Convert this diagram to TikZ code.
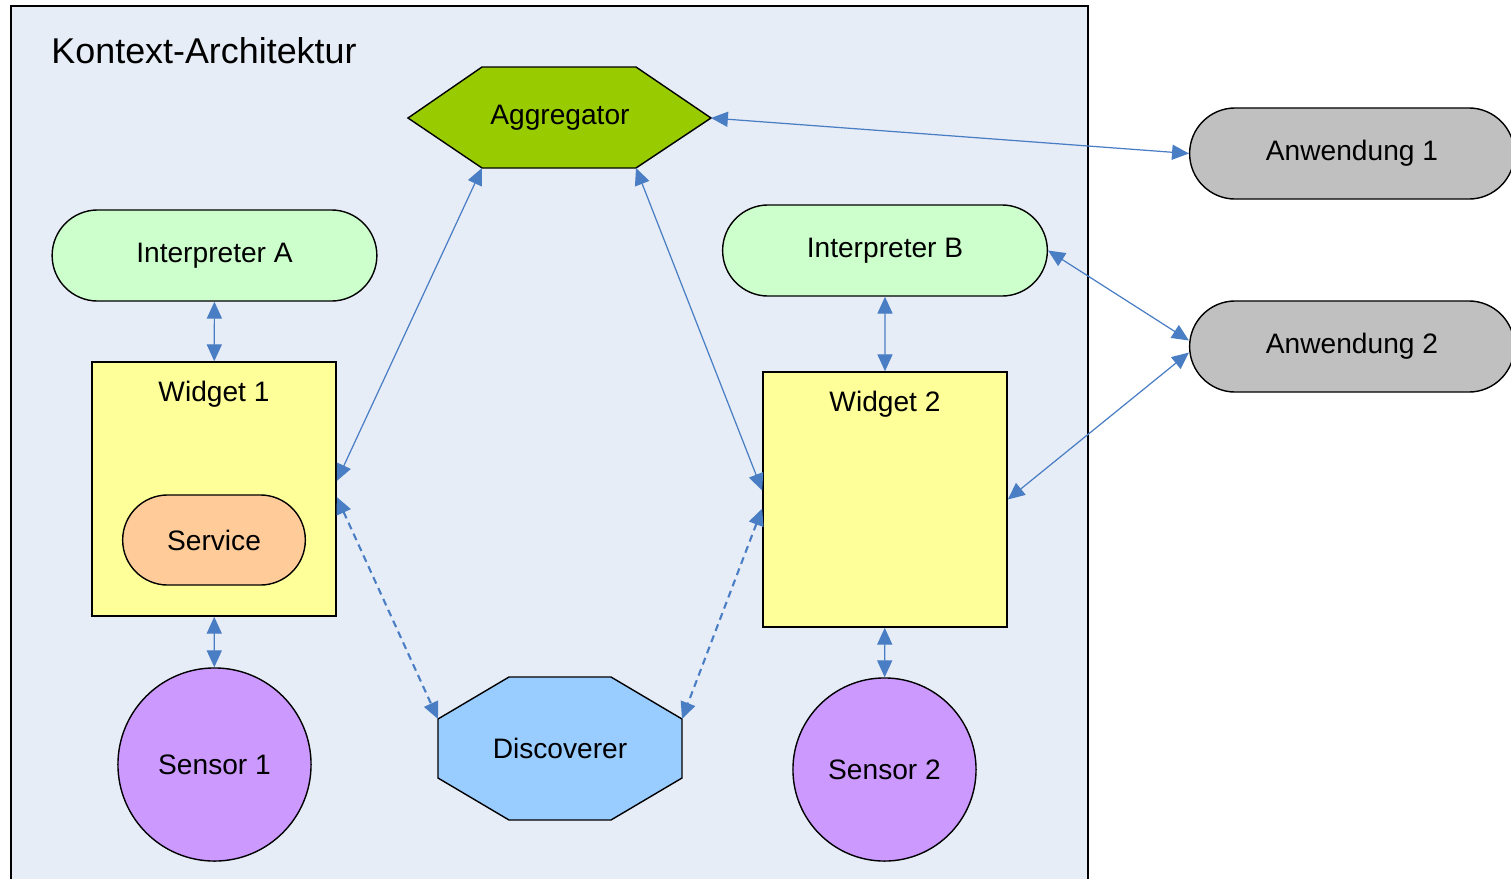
\documentclass[tikz,border=0pt]{standalone}
\usepackage{fontspec}
\setmainfont{Liberation Sans}
\usetikzlibrary{shapes.misc,arrows.meta}
\definecolor{framebg}{HTML}{E7EDF7}
\definecolor{aggreen}{HTML}{99CC00}
\definecolor{interpgreen}{HTML}{CCFFCC}
\definecolor{widgetyellow}{HTML}{FFFF99}
\definecolor{serviceorange}{HTML}{FFCC99}
\definecolor{sensorlilac}{HTML}{CC99FF}
\definecolor{discblue}{HTML}{99CCFF}
\definecolor{appgray}{HTML}{C0C0C0}
\definecolor{linkblue}{HTML}{4A7EC4}

\begin{document}
\begin{tikzpicture}[x=0.01cm, y=-0.01cm,
  every node/.style={font=\fontsize{8}{9.6}\selectfont},
  pill/.style={rounded rectangle, draw, minimum height=0.91cm, minimum width=3.48cm},
  widgetbox/.style={rectangle, draw, fill=widgetyellow, minimum width=2.44cm, minimum height=2.54cm},
  sensor/.style={circle, draw, fill=sensorlilac},
  link/.style={draw=linkblue, line width=0.35pt, {Triangle[length=4.8pt,width=4.3pt]}-{Triangle[length=4.8pt,width=4.3pt]}, color=linkblue},
  findlink/.style={link, line width=0.6pt, dash pattern=on 2pt off 1.4pt}]
  \useasboundingbox (0,0) rectangle (1511,878);
  % Frame
  \draw[fill=framebg] (11,6) rectangle (1088,900);
  \node (title) [font=\fontsize{10.2}{12}\selectfont] at (204,51) {Kontext-Architektur};
  % Nodes
  \draw[fill=aggreen] (408,118) coordinate (agg-w) -- (482,67) -- (636,67) -- (711,118) coordinate (agg-e)
    -- (636,168) coordinate (agg-br) -- (482,168) coordinate (agg-bl) -- cycle;
  \node (agg) at (560,118) {Aggregator};
  \node (ipa) [pill, fill=interpgreen] at (214.5,255.5) {Interpreter A};
  \node (ipb) [pill, fill=interpgreen] at (885,250.5) {Interpreter B};
  \node (w1) [widgetbox] at (214,489) {};
  \node (w1-title) at (214,394) {Widget 1};
  \node (srv) [pill, fill=serviceorange, minimum width=2.06cm, minimum height=0.9cm] at (214,540) {Service};
  \node (w2) [widgetbox, minimum height=2.55cm] at (885,499.5) {};
  \node (w2-title) at (885,404) {Widget 2};
  \node (s1) [sensor, minimum size=1.93cm] at (214.5,764.5) {Sensor 1};
  \node (s2) [sensor, minimum size=1.83cm] at (884.5,769.5) {Sensor 2};
  \draw[fill=discblue] (438,719) coordinate (disc-nw) -- (509,677) -- (611,677) -- (682,719) coordinate (disc-ne)
    -- (682,778) -- (611,820) -- (509,820) -- (438,778) -- cycle;
  \node (disc) at (560,748) {Discoverer};
  \node (anw1) [pill, fill=appgray] at (1352,153.5) {Anwendung 1};
  \node (anw2) [pill, fill=appgray] at (1352,346.5) {Anwendung 2};
  % Arrows
  \draw[link] (agg-e) -- (anw1.west);
  \draw[link] (agg-bl) -- ([yshift=0.08cm]w1.east);
  \draw[link] (agg-br) -- ([yshift=0.09cm]w2.west);
  \draw[findlink] ([yshift=-0.08cm]w1.east) -- (disc-nw);
  \draw[findlink] ([yshift=-0.09cm]w2.west) -- (disc-ne);
  \draw[link] (ipa) -- (w1);
  \draw[link] (w1) -- (s1);
  \draw[link] (ipb) -- (w2);
  \draw[link] (w2) -- (s2);
  \draw[link] (ipb.east) -- ([yshift=0.06cm]anw2.west);
  \draw[link] (w2.east) -- ([yshift=-0.06cm]anw2.west);
\end{tikzpicture}
\end{document}
